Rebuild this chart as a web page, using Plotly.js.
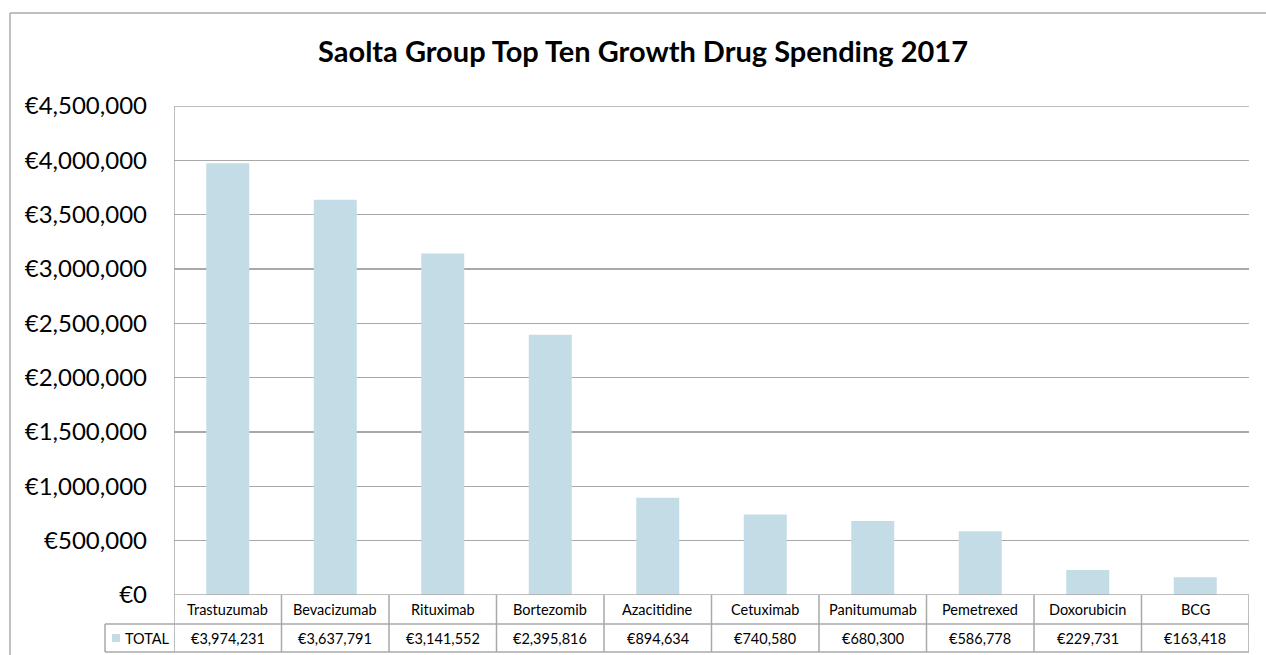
<!DOCTYPE html>
<html>
<head>
<meta charset="utf-8">
<script src="https://cdn.plot.ly/plotly-3.0.1.min.js"></script>
<style>html,body{margin:0;padding:0;background:#fff;}#chart{width:1266px;height:655px;}</style>
</head>
<body>
<div id="chart"></div>
<script>
const categories = ["Trastuzumab","Bevacizumab","Rituximab","Bortezomib","Azacitidine","Cetuximab","Panitumumab","Pemetrexed","Doxorubicin","BCG"];
const totals = [3974231, 3637791, 3141552, 2395816, 894634, 740580, 680300, 586778, 229731, 163418];
const seriesName = "TOTAL";
const chartTitle = "Saolta Group Top Ten Growth Drug Spending 2017";

const W = 1266, H = 655;
const L = 174, R = 1249, T = 106, B = 595;
const pw = R - L, ph = B - T;
const px = x => (x - L) / pw;
const py = y => (B - y) / ph;
const barColor = "#C3DCE5";
const lineColor = "#A9A9A9";
const font = "Lato, Calibri, 'Liberation Sans', sans-serif";

const shapes = [];
const annotations = [];
const fmt = v => "€" + v.toLocaleString("en-US");

// outer border
shapes.push({type:"line", xref:"paper", yref:"paper", x0:px(10), x1:px(1270), y0:py(13), y1:py(13), line:{color:"#ABABAB", width:1.5}});
shapes.push({type:"line", xref:"paper", yref:"paper", x0:px(10), x1:px(10), y0:py(13), y1:py(660), line:{color:"#ABABAB", width:1.5}});

// top and bottom grid lines at range edges
shapes.push({type:"line", xref:"paper", yref:"y", x0:0, x1:1, y0:4500000, y1:4500000, line:{color:lineColor, width:1.5}, layer:"below"});
shapes.push({type:"line", xref:"paper", yref:"y", x0:0, x1:1, y0:0, y1:0, line:{color:lineColor, width:1.5}});

// table vertical lines
for (let i = 0; i <= categories.length; i++) {
  shapes.push({type:"line", xref:"x", yref:"paper", x0:i-0.5, x1:i-0.5, y0:(i===0?1:0), y1:py(652), line:{color:lineColor, width:1.5}});
}
// table horizontal lines
shapes.push({type:"line", xref:"paper", yref:"paper", x0:px(105), x1:1, y0:py(624), y1:py(624), line:{color:lineColor, width:1.5}});
shapes.push({type:"line", xref:"paper", yref:"paper", x0:px(105), x1:1, y0:py(652), y1:py(652), line:{color:lineColor, width:1.5}});
shapes.push({type:"line", xref:"paper", yref:"paper", x0:px(105), x1:px(105), y0:py(624), y1:py(652), line:{color:lineColor, width:1.5}});
// legend key
shapes.push({type:"rect", xref:"paper", yref:"paper", x0:px(112), x1:px(120), y0:py(634), y1:py(642), fillcolor:barColor, line:{width:0}});
annotations.push({xref:"paper", yref:"paper", x:px(123), y:py(638), xanchor:"left", yanchor:"middle", text:seriesName, showarrow:false, font:{family:font, size:14.5, color:"#000"}});

categories.forEach((c, i) => {
  annotations.push({xref:"x", yref:"paper", x:i, y:py(609.5), xanchor:"center", yanchor:"middle", text:c, showarrow:false, font:{family:font, size:14.5, color:"#000"}});
  annotations.push({xref:"x", yref:"paper", x:i, y:py(638), xanchor:"center", yanchor:"middle", text:fmt(totals[i]), showarrow:false, font:{family:font, size:14.5, color:"#000"}});
});

const data = [{
  type:"bar",
  x: categories,
  y: totals,
  name: seriesName,
  marker:{color:barColor},
  hoverinfo:"x+y"
}];

const layout = {
  width: W, height: H,
  margin:{l:L, r:W-R, t:T, b:H-B, pad:0},
  paper_bgcolor:"#fff", plot_bgcolor:"#fff",
  showlegend:false,
  bargap:0.6,
  title:{text:"<b>"+chartTitle+"</b>", x:(643)/W, xanchor:"center", y:1-52/H, yanchor:"middle", font:{family:font, size:29, color:"#000"}},
  xaxis:{type:"category", showticklabels:false, showgrid:false, zeroline:false, showline:false, ticks:"", range:[-0.5, categories.length-0.5], fixedrange:true},
  yaxis:{range:[0,4500000], dtick:500000, tick0:0, tickprefix:"€", tickformat:",d", showgrid:true, gridcolor:lineColor, gridwidth:1.5, zeroline:false, showline:false, ticks:"", ticklabelstandoff:26, tickfont:{family:font, size:24, color:"#000"}, fixedrange:true},
  shapes: shapes,
  annotations: annotations
};

Plotly.newPlot("chart", data, layout, {displayModeBar:false, staticPlot:true});
</script>
</body>
</html>
